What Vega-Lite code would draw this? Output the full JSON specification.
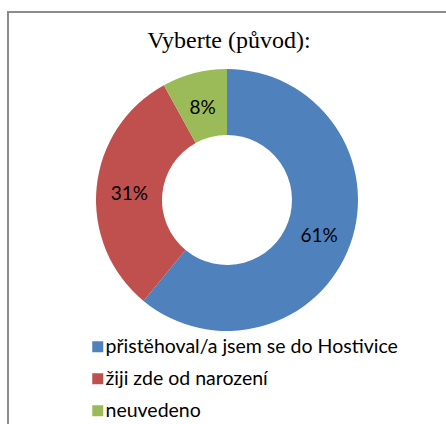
{
  "$schema": "https://vega.github.io/schema/vega-lite/v6.json",
  "autosize": "none",
  "width": 438,
  "height": 412,
  "padding": {"left": 8, "top": 12, "right": 0, "bottom": 0},
  "background": "white",
  "view": {"stroke": "#8c8c8c", "strokeWidth": 2, "strokeDash": [438, 850, 412]},
  "title": {
    "text": "Vyberte (původ):",
    "font": "Liberation Serif",
    "fontSize": 24,
    "fontWeight": "normal",
    "color": "#000000",
    "anchor": "middle",
    "baseline": "alphabetic",
    "offset": -60,
    "dx": 2
  },
  "data": {
    "values": [
      {"idx": 1, "kategorie": "přistěhoval/a jsem se do Hostivice", "podil": 61, "label": "61%"},
      {"idx": 2, "kategorie": "žiji zde od narození", "podil": 31, "label": "31%"},
      {"idx": 3, "kategorie": "neuvedeno", "podil": 8, "label": "8%"}
    ]
  },
  "encoding": {
    "theta": {"field": "podil", "type": "quantitative", "stack": true},
    "order": {"field": "idx", "type": "quantitative"}
  },
  "layer": [
    {
      "mark": {"type": "arc", "innerRadius": 65, "outerRadius": 131, "yOffset": -18},
      "encoding": {
        "color": {
          "field": "kategorie",
          "type": "nominal",
          "scale": {
            "domain": ["přistěhoval/a jsem se do Hostivice", "žiji zde od narození", "neuvedeno"],
            "range": ["#4F81BD", "#C0504D", "#9BBB59"]
          },
          "legend": {
            "title": null,
            "orient": "none",
            "legendX": 80,
            "legendY": 325,
            "padding": 0,
            "symbolType": "square",
            "symbolSize": 121,
            "symbolStrokeWidth": 0,
            "labelFont": "Lato",
            "labelFontSize": 19.5,
            "labelColor": "#000000",
            "labelOffset": -2,
            "rowPadding": 11,
            "labelLimit": 400
          }
        }
      }
    },
    {
      "mark": {"type": "text", "radius": 98, "yOffset": -15, "font": "Lato", "fontSize": 19, "color": "#000000"},
      "encoding": {
        "text": {"field": "label", "type": "nominal"}
      }
    }
  ]
}
